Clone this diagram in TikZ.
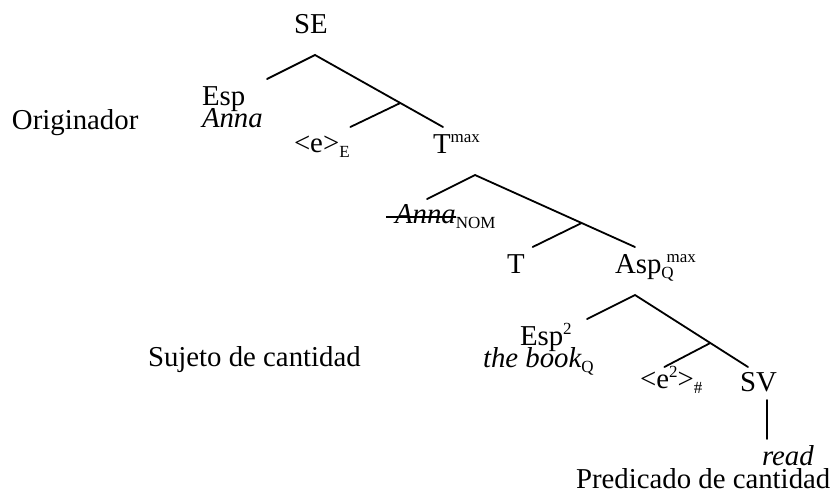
\documentclass[tikz,border=0pt]{standalone}
\usepackage{fontspec}
\setmainfont{Liberation Serif}
\usetikzlibrary{calc}
% small raised / lowered indices
\newcommand\lo[1]{\raisebox{-5pt}{\fontsize{17}{17}\selectfont #1}}
\newcommand\hi[1]{\raisebox{11pt}{\fontsize{17}{17}\selectfont #1}}
% struck-through word
\newcommand\struck[1]{\setbox0\hbox{#1}\rlap{\kern-9pt\rule[5.5pt]{\dimexpr\wd0+9pt\relax}{1.5pt}}\box0}
\begin{document}
\begin{tikzpicture}[x=1pt,y=-1pt,line width=1.8pt,
  every node/.style={inner sep=0pt,outer sep=0pt,anchor=base west,
    font=\fontsize{28.8}{34}\selectfont},
  branch/.style={line width=1.8pt,line cap=round}]
\useasboundingbox (0,0) rectangle (838,493);

% labels
\node[anchor=base] (se) at (311,33) {SE};
\node (esp) at (202,105) {Esp};
\node (anna) at (202,127) {\itshape Anna};
\node (orig) at (12,129) {Originador};
\node (eE) at (294,152) {<e>\lo{E}};
\node (tmax) at (433,153) {T\hi{max}};
\node (annanom) at (395,223) {\struck{\itshape Anna}\lo{NOM}};
\node (t) at (507,273) {T};
\node (asp) at (615,273) {Asp\lo{Q}\kern-7pt\hi{max}};
\node (esp2) at (520,345) {Esp\hi{2}};
\node (book) at (483,367) {{\itshape the book}\lo{Q}};
\node (suj) at (148,366) {Sujeto de cantidad};
\node (e2) at (640,388) {<e\hi{2}>\lo{\#}};
\node (sv) at (740,391) {SV};
\node (read) at (762,465) {\itshape read};
\node (pred) at (576,488) {Predicado de cantidad};

% tree skeleton
\coordinate (r1) at (315,55);
\coordinate (l1) at (267,79);
\coordinate (R1) at (443,127);
\coordinate (b1) at ($(r1)!2/3!(R1)$);
\coordinate (m1) at ($(b1)+(-50,24)$);

\coordinate (r2) at (475,175);
\coordinate (l2) at (427,199);
\coordinate (R2) at (635,247);
\coordinate (b2) at ($(r2)!2/3!(R2)$);
\coordinate (m2) at ($(b2)+(-49,24)$);

\coordinate (r3) at (635,295);
\coordinate (l3) at (587,319);
\coordinate (R3) at (748,367);
\coordinate (b3) at ($(r3)!2/3!(R3)$);
\coordinate (m3) at ($(b3)+(-46,24)$);

\coordinate (v1) at (767,400);
\coordinate (v2) at (767,439);

\draw[branch] (l1) -- (r1) -- (R1);
\draw[branch] (b1) -- (m1);
\draw[branch] (l2) -- (r2) -- (R2);
\draw[branch] (b2) -- (m2);
\draw[branch] (l3) -- (r3) -- (R3);
\draw[branch] (b3) -- (m3);
\draw[branch] (v1) -- (v2);
\end{tikzpicture}
\end{document}
